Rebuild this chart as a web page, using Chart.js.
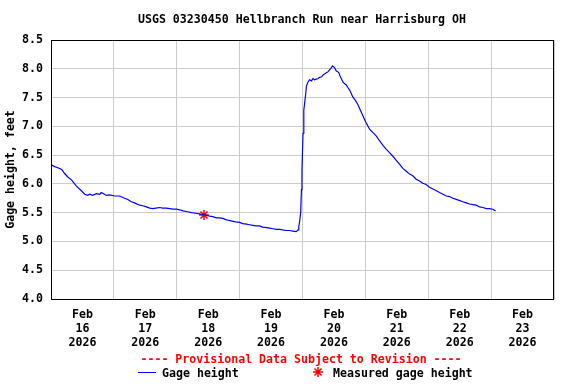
<!DOCTYPE html>
<html>
<head>
<meta charset="utf-8">
<script src="https://cdn.jsdelivr.net/npm/chart.js@4.4.1/dist/chart.umd.min.js"></script>
<style>
  body { margin: 0; background: #fff; }
</style>
</head>
<body>
<canvas id="GageChart" width="576" height="384"></canvas>
<script>
// hours since Feb 16 2026 00:00
const hours = [0.1, 1.4, 2.6, 4.1, 5.2, 6.4, 7.8, 9.7, 11.6, 12.9, 14.0, 14.8, 15.9, 17.3, 18.6, 19.2, 20.1, 21.1, 22.4,
  24.3, 26.2, 28.1, 29.3, 30.7, 31.9, 33.9, 35.0, 36.4, 37.7, 38.9, 40.0, 41.5, 42.6, 44.0, 45.3, 46.6, 47.9,
  49.1, 50.4, 51.7, 53.6, 55.2, 56.7, 58.7, 60.6, 61.7, 63.1, 64.4, 65.6, 66.7, 67.5, 69.5, 70.5, 72.0,
  73.2, 74.6, 75.8, 77.1, 78.1, 79.6, 80.8, 82.2, 83.5, 84.7, 86.0, 87.3, 88.4, 89.8, 91.1, 92.3, 93.6,
  94.3, 94.6, 94.9, 95.3, 95.6, 95.8, 96.2, 96.5, 97.1, 97.5, 98.1, 98.7, 99.4, 100.0, 100.6, 101.2, 102.0,
  102.5, 103.3, 103.8, 104.4, 105.1, 105.8, 106.3, 106.9, 107.4, 107.9, 108.2, 108.9, 109.4, 109.9, 110.3,
  110.8, 111.4, 112.1, 112.7, 113.4, 114.0, 114.6, 115.2, 115.9, 116.5, 117.2, 117.8, 118.4, 119.0, 119.7,
  120.3, 121.0, 121.6, 122.9, 124.2, 125.4, 126.7, 128.0, 129.3, 130.5, 131.8, 133.1, 134.3, 135.6, 136.9,
  138.1, 139.4, 140.7, 141.9, 143.2, 144.5, 145.8, 147.1, 148.3, 149.6, 150.9, 152.1, 153.4, 154.7, 156.0,
  157.2, 158.5, 159.8, 161.0, 162.3, 163.6, 164.9, 166.1, 167.4, 168.7, 169.7];
const gageHeight = [6.33, 6.30, 6.28, 6.25, 6.18, 6.12, 6.07, 5.96, 5.88, 5.82, 5.80, 5.82, 5.80, 5.83, 5.82, 5.85, 5.83, 5.80, 5.81,
  5.79, 5.79, 5.75, 5.73, 5.69, 5.67, 5.63, 5.62, 5.60, 5.58, 5.57, 5.58, 5.59, 5.58, 5.58, 5.57, 5.56, 5.56,
  5.55, 5.53, 5.52, 5.50, 5.49, 5.48, 5.46, 5.44, 5.43, 5.41, 5.41, 5.40, 5.38, 5.37, 5.35, 5.34, 5.33,
  5.31, 5.30, 5.29, 5.28, 5.27, 5.27, 5.25, 5.24, 5.23, 5.22, 5.21, 5.21, 5.20, 5.19, 5.19, 5.18, 5.17,
  5.20, 5.26, 5.35, 5.50, 5.90, 6.25, 6.88, 7.28, 7.51, 7.70, 7.77, 7.81, 7.79, 7.83, 7.81, 7.82, 7.83,
  7.85, 7.86, 7.89, 7.91, 7.93, 7.95, 7.98, 8.01, 8.05, 8.03, 8.02, 7.96, 7.95, 7.93, 7.88,
  7.83, 7.77, 7.74, 7.72, 7.67, 7.63, 7.57, 7.51, 7.47, 7.43, 7.37, 7.31, 7.25, 7.19, 7.12,
  7.06, 7.00, 6.95, 6.89, 6.83, 6.75, 6.67, 6.60, 6.54, 6.48, 6.41, 6.34, 6.27, 6.22, 6.17,
  6.14, 6.08, 6.05, 6.01, 5.99, 5.94, 5.91, 5.88, 5.85, 5.82, 5.79, 5.78, 5.75, 5.73, 5.71,
  5.69, 5.67, 5.65, 5.64, 5.63, 5.60, 5.59, 5.57, 5.57, 5.56, 5.53];
const measuredHours = [58.4];
const measuredHeight = [5.46];
const dayLabels = ['16', '17', '18', '19', '20', '21', '22', '23'];
const monthLabel = 'Feb';
const yearLabel = '2026';

const FONT = "'DejaVu Sans Mono', monospace";
const FSIZE = 11.6;

function toPoints(xs, ys) {
  return xs.map((x, i) => ({x: x, y: ys[i]}));
}

const decor = {
  id: 'decor',
  afterDatasetsDraw(chart) {
    const ctx = chart.ctx;
    const a = chart.chartArea;
    ctx.save();
    ctx.strokeStyle = '#000';
    ctx.lineWidth = 1;
    ctx.strokeRect(Math.round(a.left) + 0.5, Math.round(a.top) + 0.5,
      Math.round(a.right - a.left) - 1, Math.round(a.bottom - a.top));
    ctx.restore();
  },
  afterDraw(chart) {
    const ctx = chart.ctx;
    ctx.save();
    ctx.font = 'bold ' + FSIZE + 'px ' + FONT;
    ctx.textBaseline = 'alphabetic';
    ctx.textAlign = 'center';
    ctx.fillStyle = '#000';
    ctx.fillText('USGS 03230450 Hellbranch Run near Harrisburg OH', 302, 23);
    ctx.fillStyle = '#f00';
    ctx.fillText('---- Provisional Data Subject to Revision ----', 301, 363);

    ctx.textAlign = 'left';
    ctx.strokeStyle = '#00f';
    ctx.lineWidth = 1;
    ctx.beginPath();
    ctx.moveTo(138, 372.5);
    ctx.lineTo(156, 372.5);
    ctx.stroke();
    ctx.fillStyle = '#000';
    ctx.fillText('Gage height', 162, 377);

    ctx.strokeStyle = '#f00';
    ctx.lineWidth = 1.5;
    const cx = 318, cy = 372, r = 5;
    ctx.beginPath();
    for (let k = 0; k < 4; k++) {
      const ang = k * Math.PI / 4;
      ctx.moveTo(cx - r * Math.cos(ang), cy - r * Math.sin(ang));
      ctx.lineTo(cx + r * Math.cos(ang), cy + r * Math.sin(ang));
    }
    ctx.stroke();
    ctx.fillText('Measured gage height', 333, 377);
    ctx.restore();
  }
};

function drawGageChart() {
  const ctx = document.getElementById('GageChart');

  new Chart(ctx, {
    type: 'line',
    data: {
      datasets: [{
        label: 'Gage height',
        data: toPoints(hours, gageHeight),
        borderColor: '#0000ff',
        borderWidth: 1.2,
        pointRadius: 0,
        tension: 0
      }, {
        label: 'Measured gage height',
        data: toPoints(measuredHours, measuredHeight),
        showLine: false,
        pointStyle: 'star',
        pointRadius: 5,
        borderColor: '#ff0000',
        borderWidth: 1.5
      }]
    },
    options: {
      responsive: false,
      animation: false,
      layout: {
        padding: {left: 0, top: 40, right: 22, bottom: 0}
      },
      plugins: {
        legend: {display: false},
        tooltip: {enabled: false}
      },
      scales: {
        x: {
          type: 'linear',
          min: 0,
          max: 192,
          afterFit: (axis) => { axis.height = 85; },
          border: {display: false},
          grid: {
            drawTicks: false,
            color: (c) => (c.tick && c.tick.value % 24 === 0) ? '#cccccc' : 'rgba(0,0,0,0)'
          },
          ticks: {
            stepSize: 12,
            autoSkip: false,
            maxRotation: 0,
            padding: 9,
            color: '#000',
            font: {family: FONT, size: FSIZE, weight: 'bold', lineHeight: 1.2},
            callback: (v) => {
              if (v % 24 !== 12) return '';
              return [monthLabel, dayLabels[(v - 12) / 24], yearLabel];
            }
          }
        },
        y: {
          min: 4,
          max: 8.5,
          afterFit: (axis) => { axis.width = 51; },
          border: {display: false},
          grid: {drawTicks: false, color: '#cccccc'},
          ticks: {
            stepSize: 0.5,
            padding: 8,
            color: '#000',
            font: {family: FONT, size: FSIZE, weight: 'bold'},
            callback: (v) => v.toFixed(1)
          },
          title: {
            display: true,
            text: 'Gage height, feet',
            color: '#000',
            padding: {top: 4, bottom: 0},
            font: {family: FONT, size: FSIZE, weight: 'bold'}
          }
        }
      }
    },
    plugins: [decor]
  });
}

drawGageChart();
</script>
</body>
</html>
